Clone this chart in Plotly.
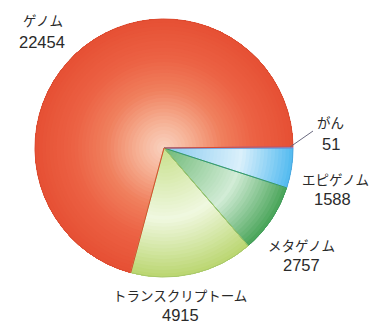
import plotly.graph_objects as go

# ---- data ----
labels = ["がん", "エピゲノム", "メタゲノム", "トランスクリプトーム", "ゲノム"]
values = [51, 1588, 2757, 4915, 22454]

# ---- styles ----
W, H = 373, 324
CX, CY, R = 164, 148, 129

# radial colour stops per slice: (t, (r,g,b))
grad = [
    [(0, (196, 136, 220)), (1, (190, 128, 215))],
    [(0, (135, 202, 240)), (0.6, (218, 240, 251)), (1, (82, 186, 240))],
    [(0, (110, 185, 118)), (0.6, (210, 236, 214)), (1, (72, 164, 88))],
    [(0, (200, 224, 140)), (0.55, (240, 248, 224)), (1, (186, 214, 112))],
    [(0, (249, 210, 192)), (0.2, (246, 178, 150)), (0.45, (240, 128, 94)),
     (0.7, (236, 98, 68)), (1, (230, 80, 52))],
]
edge = ["#a070c8", "#4aa8e0", "#3f9e5a", "#a8c86a", "#dc4a30"]


def col_at(stops, t):
    for (t0, c0), (t1, c1) in zip(stops[:-1], stops[1:]):
        if t0 <= t <= t1:
            f = (t - t0) / (t1 - t0) if t1 > t0 else 0
            c = [round(a + (b - a) * f) for a, b in zip(c0, c1)]
            return "rgb(%d,%d,%d)" % tuple(c)
    c = stops[-1][1]
    return "rgb(%d,%d,%d)" % c


total = sum(values)
rotation = 90 - 360 * values[0] / total
dom = dict(x=[(CX - R) / W, (CX + R) / W], y=[(H - CY - R) / H, (H - CY + R) / H])

fig = go.Figure()
N = 36
for k in range(N):
    h = k / N
    t = (k + 0.5) / N
    fig.add_trace(go.Pie(
        labels=labels, values=values, sort=False, direction="clockwise",
        rotation=rotation, hole=h, domain=dom, textinfo="none",
        hoverinfo="skip", showlegend=False,
        marker=dict(colors=[col_at(g, t) for g in grad], line=dict(width=0)),
    ))
# slice outlines
fig.add_trace(go.Pie(
    labels=labels, values=values, sort=False, direction="clockwise",
    rotation=rotation, domain=dom, textinfo="none", hoverinfo="skip",
    showlegend=False,
    marker=dict(colors=["rgba(0,0,0,0)"] * 5, line=dict(width=1, color=edge)),
))

# label positions (pixel centres): kana line, number line
label_pos = [
    ((330, 122), (331, 144)),
    ((335, 179), (332, 199)),
    ((301, 245), (301, 265)),
    ((180, 295), (180, 315)),
    ((43, 20), (42, 42)),
]
annos = []
for lab, val, ((kx, ky), (nx, ny)) in zip(labels, values, label_pos):
    annos.append(dict(text=lab, x=kx / W, y=1 - ky / H, xref="paper", yref="paper",
                      xanchor="center", yanchor="middle", showarrow=False,
                      font=dict(family="Noto Sans CJK JP", size=13.5, color="#2a2a2a")))
    annos.append(dict(text=str(val), x=nx / W, y=1 - ny / H, xref="paper", yref="paper",
                      xanchor="center", yanchor="middle", showarrow=False,
                      font=dict(family="Liberation Sans, Arial", size=16.5, color="#2a2a2a")))

fig.update_layout(
    width=W, height=H, margin=dict(l=0, r=0, t=0, b=0),
    paper_bgcolor="white", plot_bgcolor="white",
    annotations=annos,
    shapes=[dict(type="line", xref="paper", yref="paper",
                 x0=290 / W, y0=1 - 147 / H, x1=313 / W, y1=1 - 131 / H,
                 line=dict(color="#6a6a80", width=1))],
)
fig.write_html("out.html", config={"displayModeBar": False},
               post_script="document.body.style.margin='0';document.body.style.overflow='hidden';")
